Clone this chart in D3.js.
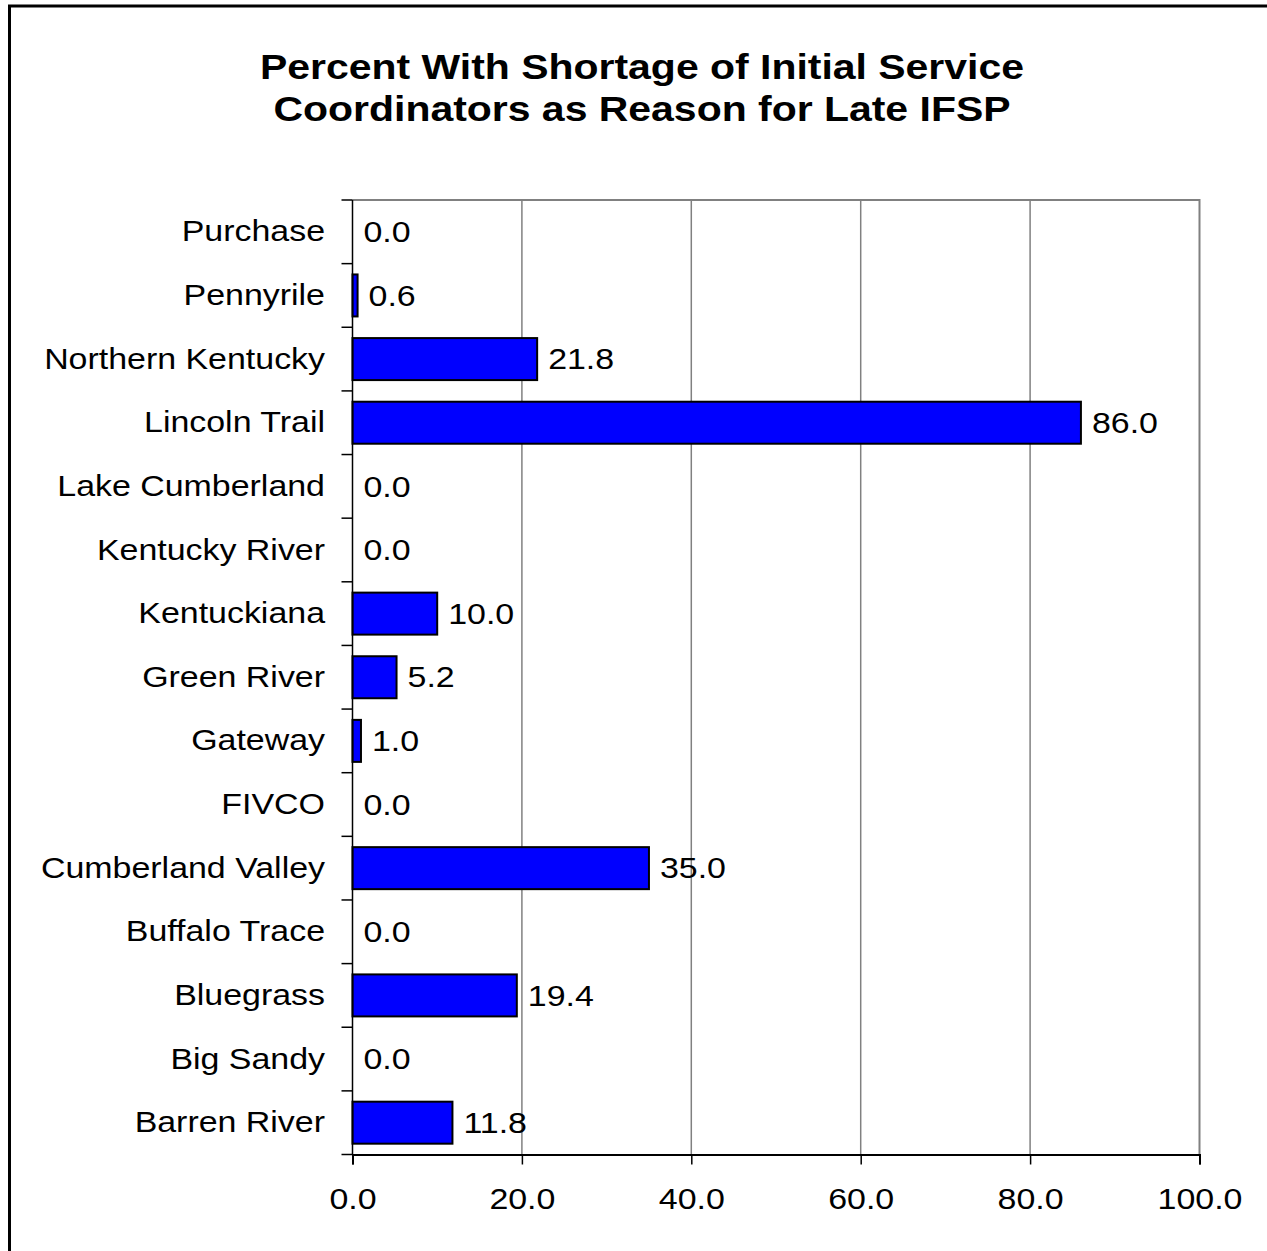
<!DOCTYPE html>
<html>
<head>
<meta charset="utf-8">
<script src="https://cdn.jsdelivr.net/npm/d3@7"></script>
<style>
  html, body { margin: 0; padding: 0; background: #fff; }
  svg text { font-family: Arial, "Liberation Sans", sans-serif; fill: #000; }
</style>
</head>
<body>
<svg id="chart" width="1267" height="1251"></svg>
<script>
// Regions listed top to bottom
const regions = [
  "Purchase", "Pennyrile", "Northern Kentucky", "Lincoln Trail",
  "Lake Cumberland", "Kentucky River", "Kentuckiana", "Green River",
  "Gateway", "FIVCO", "Cumberland Valley", "Buffalo Trace",
  "Bluegrass", "Big Sandy", "Barren River"
];
const percentValues = [
  0.0, 0.6, 21.8, 86.0,
  0.0, 0.0, 10.0, 5.2,
  1.0, 0.0, 35.0, 0.0,
  19.4, 0.0, 11.8
];
const xTickValues = [0, 20, 40, 60, 80, 100];
const titleLines = [
  "Percent With Shortage of Initial Service",
  "Coordinators as Reason for Late IFSP"
];

// Text is drawn slightly widened, like the original office-chart rendering
const stretch = 1.17;
const labelSize = 29;

const svg = d3.select("#chart");

// Outer frame (right and bottom edges fall outside the canvas)
svg.append("rect")
  .attr("x", 9.5).attr("y", 6)
  .attr("width", 1300).attr("height", 1300)
  .attr("fill", "none").attr("stroke", "#000").attr("stroke-width", 3);

// Title
const title = svg.append("text")
  .attr("transform", `translate(642,0) scale(${stretch},1)`)
  .attr("text-anchor", "middle")
  .attr("font-weight", "bold")
  .attr("font-size", 35);
titleLines.forEach((line, i) => {
  title.append("tspan").attr("x", 0).attr("y", 79 + i * 42).text(line);
});

const plot = { left: 352.5, right: 1199.5, top: 200, bottom: 1154.5 };

const x = d3.scaleLinear().domain([0, 100]).range([plot.left, plot.right]);
const y = d3.scaleBand().domain(regions).range([plot.top, plot.bottom])
  .paddingInner(0.34).paddingOuter(0.17);

// Vertical gridlines
svg.append("g")
  .selectAll("line")
  .data(xTickValues.filter(v => v > 0 && v < 100))
  .join("line")
  .attr("x1", d => x(d)).attr("x2", d => x(d))
  .attr("y1", plot.top).attr("y2", plot.bottom)
  .attr("stroke", "#808080").attr("stroke-width", 1.5);

// Plot frame: top and right in gray
svg.append("path")
  .attr("d", `M${plot.left},${plot.top}H${plot.right}V${plot.bottom}`)
  .attr("fill", "none").attr("stroke", "#808080").attr("stroke-width", 2);

const rows = regions.map((r, i) => ({ region: r, value: percentValues[i] }));

// Bars
svg.append("g")
  .selectAll("rect")
  .data(rows.filter(d => d.value > 0))
  .join("rect")
  .attr("x", x(0))
  .attr("y", d => y(d.region))
  .attr("width", d => x(d.value) - x(0))
  .attr("height", y.bandwidth())
  .attr("fill", "#0000FF")
  .attr("stroke", "#000")
  .attr("stroke-width", 2);

// Value labels
svg.append("g")
  .selectAll("text")
  .data(rows)
  .join("text")
  .attr("transform", d => `translate(${x(d.value) + 11},${y(d.region) + y.bandwidth() / 2}) scale(${stretch},1)`)
  .attr("dy", "0.35em")
  .attr("font-size", labelSize)
  .text(d => d.value.toFixed(1));

// Y axis (category)
const yBoundaries = d3.scaleLinear().domain([0, regions.length]).range([plot.top, plot.bottom]);
const yAxis = svg.append("g");
yAxis.append("line")
  .attr("x1", plot.left).attr("x2", plot.left)
  .attr("y1", plot.top).attr("y2", plot.bottom)
  .attr("stroke", "#000").attr("stroke-width", 1.5);
yAxis.selectAll("line.tick")
  .data(d3.range(regions.length + 1))
  .join("line")
  .attr("class", "tick")
  .attr("x1", plot.left - 11).attr("x2", plot.left)
  .attr("y1", d => yBoundaries(d)).attr("y2", d => yBoundaries(d))
  .attr("stroke", "#000").attr("stroke-width", 1.5);
yAxis.selectAll("text")
  .data(regions)
  .join("text")
  .attr("transform", d => `translate(325,${y(d) + y.bandwidth() / 2}) scale(${stretch},1)`)
  .attr("dy", "0.33em")
  .attr("text-anchor", "end")
  .attr("font-size", labelSize)
  .text(d => d);

// X axis
const xAxis = d3.axisBottom(x)
  .tickValues(xTickValues)
  .tickSize(10)
  .tickPadding(24)
  .tickFormat(d3.format(".1f"));
const gx = svg.append("g")
  .attr("transform", `translate(0,${plot.bottom})`)
  .call(xAxis);
gx.select(".domain").attr("stroke", "#000").attr("stroke-width", 2);
gx.selectAll(".tick line").attr("stroke", "#000").attr("stroke-width", 1.5);
gx.selectAll(".tick text")
  .attr("transform", `scale(${stretch},1)`)
  .attr("font-size", labelSize)
  .attr("font-family", "Arial, 'Liberation Sans', sans-serif")
  .attr("fill", "#000");
</script>
</body>
</html>
